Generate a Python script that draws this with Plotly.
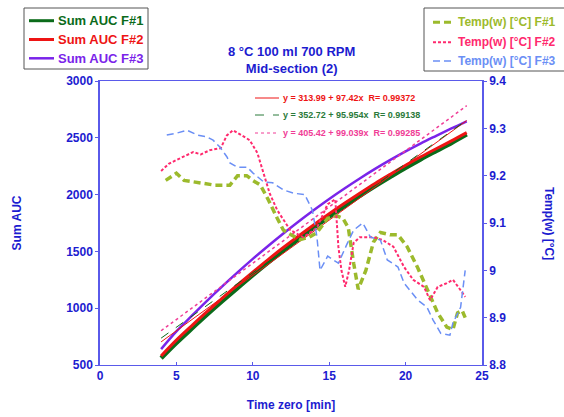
import numpy as np
import plotly.graph_objects as go

# ---------------- data ----------------
auc_t = [4, 5, 6, 7, 8, 9, 10, 11, 12, 13, 14, 15, 16, 17, 18, 19, 20, 21, 22, 23, 24]
auc_f1 = [560, 695, 820, 943, 1062, 1178, 1292, 1402, 1508, 1610, 1710, 1806, 1898, 1988, 2074, 2156, 2236, 2312, 2384, 2455, 2530]
auc_f2 = [580, 719, 845, 969, 1088, 1205, 1318, 1428, 1534, 1636, 1735, 1831, 1923, 2012, 2098, 2179, 2258, 2333, 2404, 2473, 2545]
auc_f3 = [640, 796, 932, 1065, 1192, 1315, 1434, 1548, 1658, 1764, 1865, 1962, 2054, 2142, 2226, 2305, 2380, 2451, 2517, 2582, 2645]

temp1_t = [4.3, 5.0, 5.5, 6.5, 7.5, 8.5, 9.0, 9.6, 10.0, 10.5, 11.0, 11.6, 12.0, 12.5, 13.1, 13.7, 14.2, 14.9,
           15.5, 15.9, 16.25, 16.6, 16.9, 17.4, 17.9, 18.35, 19.0, 19.5, 20.1, 20.8, 21.4, 22.1, 22.7, 23.1,
           23.4, 23.7, 23.9]
temp1_v = [9.19, 9.205, 9.19, 9.185, 9.18, 9.18, 9.2, 9.2, 9.19, 9.18, 9.15, 9.11, 9.085, 9.075, 9.065, 9.07,
           9.08, 9.11, 9.115, 9.11, 9.09, 9.015, 8.96, 9.0, 9.06, 9.08, 9.075, 9.075, 9.05, 9.005, 8.96, 8.91,
           8.88, 8.875, 8.91, 8.915, 8.90]

temp2_t = [4.0, 4.5, 5.0, 5.5, 6.1, 6.6, 7.2, 7.9, 8.3, 8.7, 9.2, 9.8, 10.3, 10.7, 11.1, 11.6, 12.0, 12.45,
           13.3, 14.2, 14.9, 15.4, 15.6, 15.8, 16.05, 16.3, 16.6, 17.0, 17.9, 18.5, 19.2, 19.9, 20.5, 21.2,
           21.6, 22.1, 22.7, 23.1, 23.6, 23.9]
temp2_v = [9.21, 9.225, 9.233, 9.24, 9.25, 9.245, 9.254, 9.258, 9.285, 9.296, 9.286, 9.275, 9.248, 9.206,
           9.163, 9.127, 9.106, 9.085, 9.07, 9.09, 9.14, 9.15, 9.05, 9.0, 8.965, 9.0, 9.058, 9.07, 9.07,
           9.064, 9.05, 9.007, 8.98, 8.965, 8.937, 8.965, 8.973, 8.98, 8.958, 8.944]

temp3_t = [4.37, 5.03, 5.7, 6.36, 7.0, 7.4, 7.86, 8.3, 8.5, 8.98, 9.63, 10.0, 10.7, 11.3, 12.0, 12.65, 13.4,
           13.9, 14.2, 14.4, 14.9, 15.6, 16.2, 16.6, 17.2, 17.7, 18.35, 18.8, 19.5, 19.9, 20.8, 21.4, 21.8,
           22.3, 22.9, 23.1, 23.6, 23.9]
temp3_v = [9.286, 9.29, 9.296, 9.286, 9.282, 9.275, 9.26, 9.24, 9.227, 9.218, 9.218, 9.206, 9.187, 9.185,
           9.17, 9.163, 9.16, 9.127, 9.07, 9.0, 9.03, 9.015, 9.058, 9.085, 9.1, 9.07, 9.064, 9.022, 9.007,
           8.973, 8.937, 8.922, 8.895, 8.867, 8.863, 8.889, 8.922, 9.0]

# linear fits shown on the chart: (intercept, slope, R)
fit_range = [4, 24]
fit_f2 = (313.99, 97.42, 0.99372)
fit_f1 = (352.72, 95.954, 0.99138)
fit_f3 = (405.42, 99.039, 0.99285)

x_ticks = [0, 5, 10, 15, 20, 25]
y_ticks = [500, 1000, 1500, 2000, 2500, 3000]
y2_ticks = [8.8, 8.9, 9.0, 9.1, 9.2, 9.3, 9.4]
y2_ticktext = ["8.8", "8.9", "9", "9.1", "9.2", "9.3", "9.4"]

auc_names = ["Sum AUC F#1", "Sum AUC F#2", "Sum AUC F#3"]
temp_names = ["Temp(w) [°C] F#1", "Temp(w) [°C] F#2", "Temp(w) [°C] F#3"]

# ---------------- styles ----------------
FONT = "Liberation Sans, Arial, sans-serif"
BLUE = "#1c1cd0"
AXIS = "#5a5aea"
C_A1 = "#0b6b1a"
C_A2 = "#ee1414"
C_A3 = "#7a24ea"
C_T1 = "#9cba2c"
C_T2 = "#ff2a6e"
C_T3 = "#6b8ff5"
C_FIT3 = "#f03c96"
C_FIT1T = "#2a7a3a"

L_T1 = dict(color=C_T1, width=3.5, dash="7px,4px")
L_T2 = dict(color=C_T2, width=2, dash="3px,2px")
L_T3 = dict(color=C_T3, width=1.5, dash="7px,4px")
L_A1 = dict(color=C_A1, width=4.5, shape="spline")
L_A2 = dict(color=C_A2, width=3, shape="spline")
L_A3 = dict(color=C_A3, width=2.5, shape="spline")

fig = go.Figure()

# temperature traces (right axis)
for t, v, nm, ln in [(temp1_t, temp1_v, temp_names[0], L_T1), (temp2_t, temp2_v, temp_names[1], L_T2),
                     (temp3_t, temp3_v, temp_names[2], L_T3)]:
    fig.add_trace(go.Scatter(x=t, y=v, yaxis="y2", mode="lines", name=nm, line=ln, showlegend=False))

# AUC traces
for v, nm, ln in [(auc_f1, auc_names[0], L_A1), (auc_f2, auc_names[1], L_A2), (auc_f3, auc_names[2], L_A3)]:
    fig.add_trace(go.Scatter(x=auc_t, y=v, mode="lines", name=nm, line=ln, showlegend=False))

# fit lines
xf = np.array(fit_range, dtype=float)
for (a, b, r), col, dash, w in [(fit_f2, C_A2, "solid", 1), (fit_f1, C_A1, "dash", 1),
                                (fit_f3, C_FIT3, "dot", 1.5)]:
    fig.add_trace(go.Scatter(x=xf, y=a + b * xf, mode="lines", showlegend=False,
                             line=dict(color=col, width=w, dash=dash), hoverinfo="skip"))

W, H, ML, MR, MT, MB = 564, 417, 100, 82, 81, 52
PW, PH = W - ML - MR, H - MT - MB


def px(x):
    return (x - ML) / PW


def py(y):
    return (H - MB - y) / PH


# fit labels with line samples
rows = [(fit_f2, C_A2, "solid", 98), (fit_f1, C_FIT1T, "dash", 115), (fit_f3, C_FIT3, "dot", 133)]
for (a, b, r), col, dash, yy in rows:
    fig.add_shape(type="line", xref="paper", yref="paper", x0=px(255), x1=px(279), y0=py(yy), y1=py(yy),
                  line=dict(color=col, width=1, dash=dash))
    fig.add_annotation(xref="paper", yref="paper", x=px(281), y=py(yy), xanchor="left", yanchor="middle",
                       text=f"<b>y = {a:.2f} + {b:g}x  R= {r:g}</b>", showarrow=False,
                       font=dict(family=FONT, size=9, color=col))


# legends (drawn as boxes with line samples)
def legend_box(x0, x1, y0, y1, rows, fs, lx0, lx1, tx):
    fig.add_shape(type="rect", xref="paper", yref="paper", x0=px(x0), x1=px(x1), y0=py(y1), y1=py(y0),
                  line=dict(color="#555555", width=1), fillcolor="white", layer="above")
    for name, ln, yy in rows:
        fig.add_shape(type="line", xref="paper", yref="paper", x0=px(lx0), x1=px(lx1), y0=py(yy), y1=py(yy),
                      line=dict(color=ln["color"], width=min(ln["width"], 3), dash=ln.get("dash", "solid")),
                      layer="above")
        fig.add_annotation(xref="paper", yref="paper", x=px(tx), y=py(yy), xanchor="left", yanchor="middle",
                           text=f"<b>{name}</b>", showarrow=False,
                           font=dict(family=FONT, size=fs, color=ln["color"]))


legend_box(24, 148, 8, 69, [(auc_names[0], L_A1, 20.7), (auc_names[1], L_A2, 39.5), (auc_names[2], L_A3, 58.3)],
           13, 29, 54, 56)
legend_box(424, 600, 8, 71, [(temp_names[0], L_T1, 22.3), (temp_names[1], L_T2, 42.3), (temp_names[2], L_T3, 61)],
           12, 433, 452, 456)

# title
fig.add_annotation(xref="paper", yref="paper", x=0.5, y=py(60), xanchor="center", yanchor="middle",
                   text="<b>8 °C 100 ml 700 RPM<br>Mid-section (2)</b>", showarrow=False,
                   font=dict(family=FONT, size=13, color=BLUE))
# right axis title (reads top to bottom)
fig.add_annotation(xref="paper", yref="paper", x=px(549), y=0.5, xanchor="center", yanchor="middle",
                   text="<b>Temp(w) [°C]</b>", textangle=90, showarrow=False,
                   font=dict(family=FONT, size=12, color=BLUE))

tickfont = dict(family="Liberation Sans", size=12, color=BLUE, weight="bold")
fig.update_layout(
    width=W, height=H,
    margin=dict(l=ML, r=MR, t=MT, b=MB, autoexpand=False),
    paper_bgcolor="white", plot_bgcolor="white",
    font=dict(family=FONT, color=BLUE),
    showlegend=False,
    xaxis=dict(range=[0, 25], tickvals=x_ticks, ticktext=[f"<b>{v}</b>" for v in x_ticks],
               ticks="inside", ticklen=3, tickcolor=AXIS,
               showline=True, linecolor=AXIS, linewidth=1, mirror=True, showgrid=False, zeroline=False,
               tickfont=tickfont,
               title=dict(text="<b>Time zero [min]</b>", standoff=18,
                          font=dict(family=FONT, size=12, color=BLUE))),
    yaxis=dict(range=[500, 3000], tickvals=y_ticks, ticktext=[f"<b>{v}</b>" for v in y_ticks],
               ticks="outside", ticklen=3, tickcolor=AXIS,
               showline=True, linecolor=AXIS, linewidth=1.5, showgrid=False, zeroline=False,
               tickfont=tickfont, ticklabelstandoff=0,
               title=dict(text="<b>Sum AUC</b>", standoff=42,
                          font=dict(family=FONT, size=12, color=BLUE))),
    yaxis2=dict(range=[8.8, 9.4], overlaying="y", side="right", tickvals=y2_ticks,
                ticktext=[f"<b>{t}</b>" for t in y2_ticktext],
                ticks="outside", ticklen=3, tickcolor=AXIS, showline=True, linecolor=AXIS, linewidth=1.5,
                showgrid=False, zeroline=False, tickfont=tickfont, ticklabelstandoff=0),
)

fig.write_html("out.html")
